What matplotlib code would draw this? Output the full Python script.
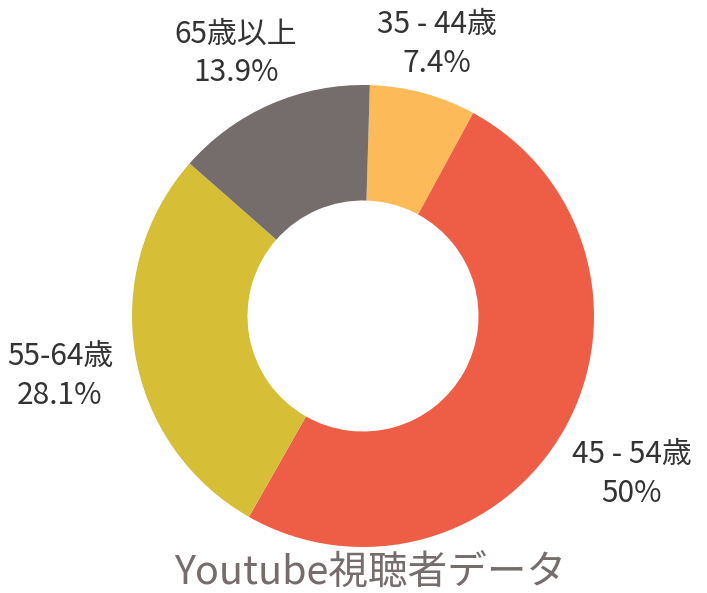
import matplotlib.pyplot as plt

plt.rcParams['font.family'] = ['Noto Sans CJK JP', 'DejaVu Sans']

# age groups, clockwise from the top
groups = ["35 - 44歳", "45 - 54歳", "55-64歳", "65歳以上"]
shares = [7.4, 50.0, 28.1, 13.9]
share_labels = ["7.4%", "50%", "28.1%", "13.9%"]
colors = ["#FDBA58", "#EE5D45", "#D6BF36", "#756D6C"]
title = "Youtube視聴者データ"

W, H = 707, 593
fig = plt.figure(figsize=(W / 100, H / 100), dpi=100)
ax = fig.add_axes([0, 0, 1, 1])

cx, cy, R = 363, H - 316, 231
ax.pie(shares, colors=colors, startangle=88.3, counterclock=False,
       center=(cx, cy), radius=R, frame=True,
       wedgeprops=dict(width=R * 0.5, linewidth=0))
ax.set_xlim(0, W)
ax.set_ylim(0, H)
ax.set_aspect("equal")
ax.axis("off")

# label positions (pixel coords, from top)
label_xy = [(437, 44), (632, 474), (60, 376), (236, 53)]
for name, pct, (x, y) in zip(groups, share_labels, label_xy):
    ax.text(x, H - y, f"{name}\n{pct}", ha="center", va="center",
            fontsize=21.5, color="#333333", linespacing=1.3)

ax.text(370, H - 574, title, ha="center", va="center",
        fontsize=28.5, color="#756D6C")

fig.savefig("out.png", dpi=100)
